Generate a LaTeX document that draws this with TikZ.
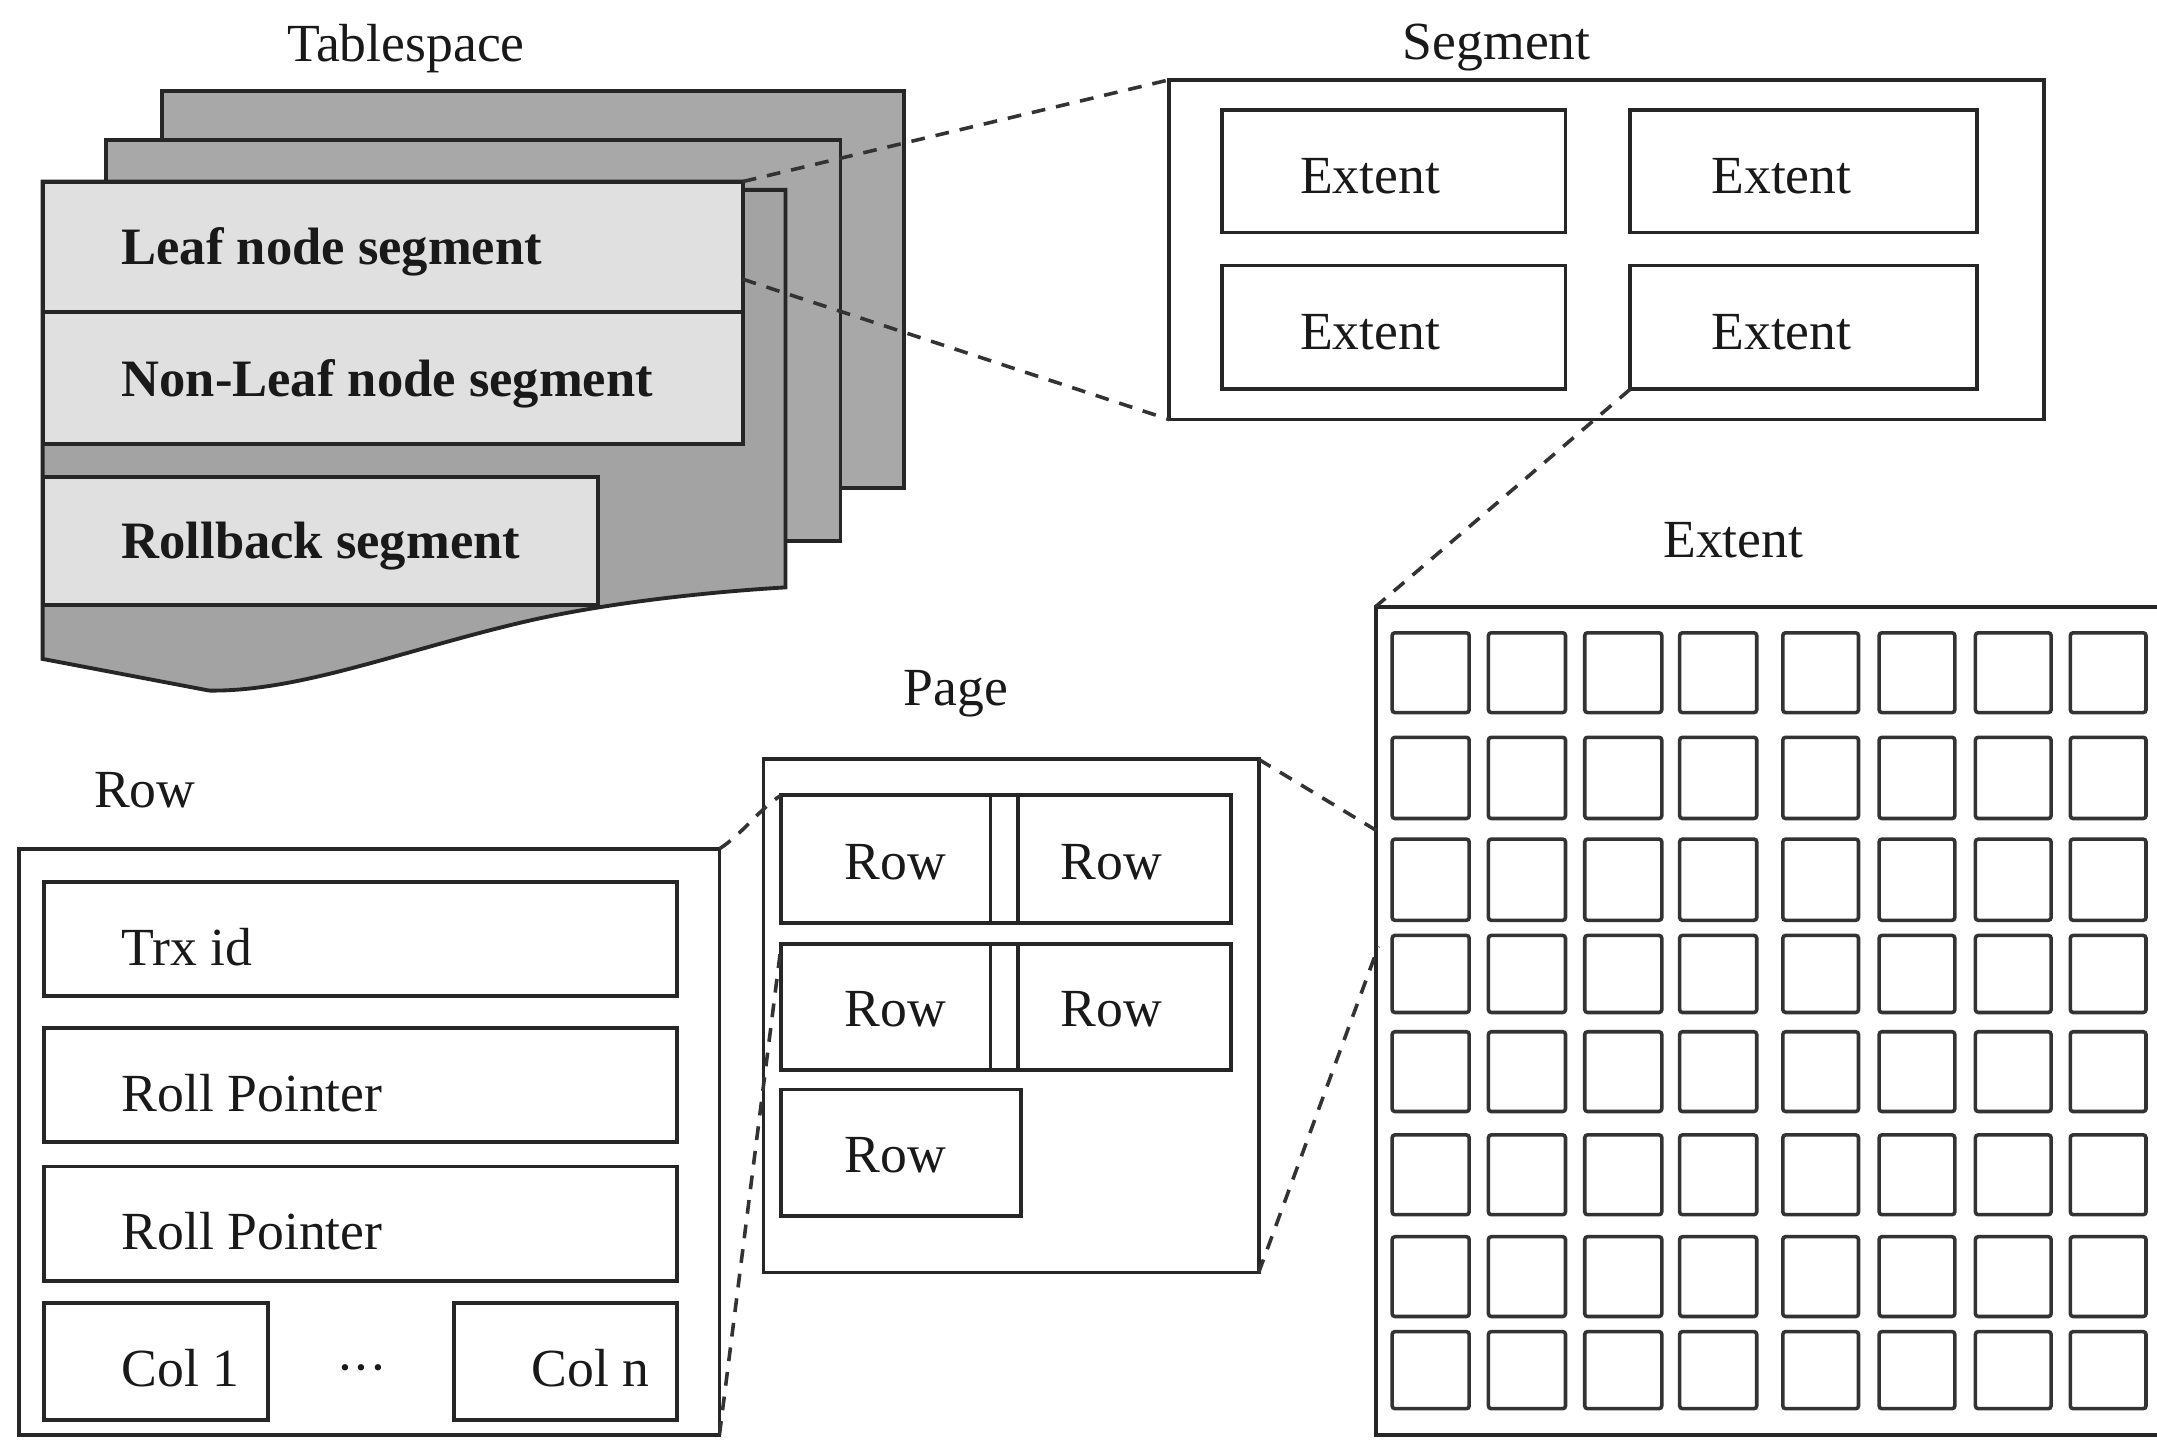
\documentclass[tikz,border=0pt]{standalone}
\usepackage{fontspec}
\setmainfont{Liberation Serif}
\usetikzlibrary{fit}
\begin{document}
\begin{tikzpicture}[x=0.5pt,y=-0.5pt,
  box/.style={draw=black!85, line width=1.4pt, inner sep=0pt, outer sep=0pt},
  sheet/.style={box, fill=black!34},
  lightbox/.style={box, fill=black!12},
  cell/.style={draw=black!80, line width=1.3pt, rounded corners=1pt},
  lbl/.style={font=\fontsize{19.5}{22}\selectfont, text=black!90, inner sep=0pt},
  blbl/.style={font=\fontsize{19.1}{22}\selectfont\bfseries, text=black!90, inner sep=0pt},
  link/.style={draw=black!80, line width=1.3pt, dash pattern=on 5pt off 4pt},
]
\useasboundingbox (0,0) rectangle (1568,1047);

% ---------------- Tablespace ----------------
\node[lbl, anchor=base] (tstitle) at (295,45) {Tablespace};
\node[sheet, fit={(118,66)(657,355)}] (ts3) {};
\node[sheet, fit={(77,102)(611,393)}] (ts2) {};
\draw[line width=1.4pt, draw=black!85, fill=black!36]
  (31,132) -- (540,132) -- (540,138) -- (571,138) -- (571,427)
  .. controls (520,430) and (450,437) .. (390,450)
  .. controls (300,470) and (220,503) .. (152,502)
  -- (31,479) -- cycle;
\node[lightbox, fit={(31,132)(540,227)}] (leaf) {};
\node[blbl, anchor=base west] (leaft) at (88,192) {Leaf node segment};
\node[lightbox, fit={(31,227)(540,323)}] (nonleaf) {};
\node[blbl, anchor=base west] (nonleaft) at (88,288) {Non-Leaf node segment};
\node[lightbox, fit={(31,347)(435,440)}] (rollback) {};
\node[blbl, anchor=base west] (rollbackt) at (88,406) {Rollback segment};
\coordinate (leafout) at (540,203);

% ---------------- Segment ----------------
\node[lbl, anchor=base] (segtitle) at (1088,43) {Segment};
\node[box, fit={(850,58)(1486,305)}] (seg) {};
\node[box, fit={(888,80)(1138,169)}] (ext1) {};
\node[box, fit={(1185,80)(1437,169)}] (ext2) {};
\node[box, fit={(888,193)(1138,283)}] (ext3) {};
\node[box, fit={(1185,193)(1437,283)}] (ext4) {};
\node[lbl, anchor=base] (ext1t) at (996,141) {Extent};
\node[lbl, anchor=base] (ext2t) at (1295,141) {Extent};
\node[lbl, anchor=base] (ext3t) at (996,254) {Extent};
\node[lbl, anchor=base] (ext4t) at (1295,254) {Extent};

\draw[link] (leaf.north east) -- (seg.north west);
\draw[link] (leafout) -- (seg.south west);

% ---------------- Extent ----------------
\node[lbl, anchor=base] (exttitle) at (1260,405) {Extent};
\begin{scope}
  \clip (0,0) rectangle (1568,1047);
  \node[box, fit={(1000,441)(1620,1043)}] (extbox) {};
  \foreach \xa/\xb in {1012/1068,1082/1138,1152/1208,1221/1277,1296/1351,1366/1421,1436/1491,1505/1560}{
    \foreach \ya/\yb in {460/518,536/595,610/669,680/736,750/808,825/883,899/957,968/1024}{
      \draw[cell] (\xa,\ya) rectangle (\xb,\yb);
    }
  }
\end{scope}
\draw[link] (ext4.south west) -- (extbox.north west);
\coordinate (extin1) at (1001,604);
\coordinate (extin2) at (1002,688);

% ---------------- Page ----------------
\node[lbl, anchor=base] (pagetitle) at (695,513) {Page};
\node[box, fit={(555,552)(915,925)}] (page) {};
\node[box, fit={(568,578)(895,671)}] (prow1) {};
\draw[box] (720,578) -- (720,671) (740,578) -- (740,671);
\node[box, fit={(568,686)(895,778)}] (prow2) {};
\draw[box] (720,686) -- (720,778) (740,686) -- (740,778);
\node[box, fit={(568,792)(742,884)}] (prow3) {};
\node[lbl, anchor=base] (r1) at (651,639) {Row};
\node[lbl, anchor=base] (r2) at (808,639) {Row};
\node[lbl, anchor=base] (r3) at (651,746) {Row};
\node[lbl, anchor=base] (r4) at (808,746) {Row};
\node[lbl, anchor=base] (r5) at (651,852) {Row};

\draw[link] (page.north east) -- (extin1);
\draw[link] (page.south east) -- (extin2);

% ---------------- Row ----------------
\node[lbl, anchor=base west] (rowtitle) at (68,587) {Row};
\node[box, fit={(14,617)(523,1043)}] (rowbox) {};
\node[box, fit={(32,641)(492,724)}] (trx) {};
\node[lbl, anchor=base west] (trxt) at (88,702) {Trx id};
\node[box, fit={(32,747)(492,830)}] (rp1) {};
\node[lbl, anchor=base west] (rp1t) at (88,808) {Roll Pointer};
\node[box, fit={(32,848)(492,931)}] (rp2) {};
\node[lbl, anchor=base west] (rp2t) at (88,908) {Roll Pointer};
\node[box, fit={(32,947)(195,1032)}] (col1) {};
\node[lbl, anchor=base west] (col1t) at (88,1008) {Col 1};
\node[lbl, anchor=base] (dots) at (263,1007) {\textperiodcentered\kern-0.5pt\textperiodcentered\kern-0.5pt\textperiodcentered};
\node[box, fit={(330,947)(492,1032)}] (coln) {};
\node[lbl, anchor=base west] (colnt) at (386,1008) {Col n};

\draw[link] (rowbox.north east) .. controls (540,606) and (552,588) .. (prow1.north west);
\draw[link] (rowbox.south east) -- (prow2.north west);
\end{tikzpicture}
\end{document}
